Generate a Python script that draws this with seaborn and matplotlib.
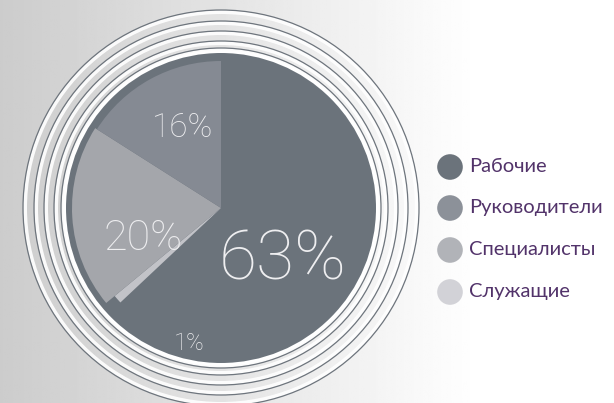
import matplotlib
matplotlib.use("Agg")
import matplotlib.pyplot as plt
import numpy as np
import pandas as pd
import seaborn as sns
from matplotlib.patches import Circle

# data
categories = ["Рабочие", "Служащие", "Специалисты", "Руководители"]
shares = [63, 1, 20, 16]
slice_colors = ["#6b737b", "#c2c3c8", "#a4a6ab", "#858a93"]

legend_labels = ["Рабочие", "Руководители", "Специалисты", "Служащие"]
legend_colors = ["#6b737b", "#8c9199", "#b1b3b8", "#d2d2d7"]

sns.set_theme(style="white")
plt.rcParams["font.family"] = ["Lato", "DejaVu Sans"]

W, H = 614, 403
fig = plt.figure(figsize=(W / 100, H / 100), dpi=100)
ax = fig.add_axes([0, 0, 1, 1])

# background gradient, grey on the left fading to white
xs = np.linspace(0, 1, 300)
grad = np.clip(0.80 + 0.20 * xs / 0.78, 0, 1)
img = np.tile(grad, (10, 1))
ax.imshow(img, cmap="gray", vmin=0, vmax=1, extent=(0, W, 0, H), aspect="auto", zorder=0)

cx, cy = 221, H - 208

# concentric rings
for r in [198, 187, 177, 167, 160]:
    ax.add_patch(Circle((cx, cy), r - 2.2, fill=False, ec="white", lw=2.6, alpha=0.9, zorder=1))
    ax.add_patch(Circle((cx, cy), r, fill=False, ec="#6e757d", lw=0.9, zorder=2))
ax.add_patch(Circle((cx, cy), 158, fc="white", ec="none", zorder=2))

# dark base disc
ax.add_patch(Circle((cx, cy), 155, fc=slice_colors[0], ec="none", zorder=3))

wedges, _ = ax.pie(shares, colors=slice_colors, startangle=90, counterclock=False,
                   radius=149, center=(cx, cy), frame=True,
                   wedgeprops=dict(linewidth=0, zorder=4))
for w in wedges:
    w.set_zorder(4)
wedges[1].set_radius(138)
wedges[3].set_radius(147)

ax.set_xlim(0, W)
ax.set_ylim(0, H)
ax.set_aspect("auto")
ax.axis("off")

# percent labels
label_pos = [(283, H - 261, 50), (189, H - 344, 17), (143, H - 238, 31), (183, H - 128, 24)]
for val, (x, y, fs) in zip(shares, label_pos):
    ax.text(x, y, f"{val}%", fontsize=fs, color="#eeeef0", fontweight="light",
            family=["Roboto", "DejaVu Sans"], ha="center", va="center", zorder=6)

# legend
leg = pd.DataFrame({"label": legend_labels,
                    "x": [450] * 4,
                    "y": [H - 167, H - 208, H - 250, H - 292]})
sns.scatterplot(data=leg, x="x", y="y", hue="label", palette=legend_colors,
                s=340, linewidth=0, legend=False, ax=ax, zorder=6)
for _, row in leg.iterrows():
    ax.text(row["x"] + 19, row["y"], row["label"], fontsize=14.5, color="#52336a",
            ha="left", va="center", zorder=6)

ax.set_xlim(0, W)
ax.set_ylim(0, H)
ax.set_xlabel("")
ax.set_ylabel("")
fig.savefig("out.png", dpi=100)
